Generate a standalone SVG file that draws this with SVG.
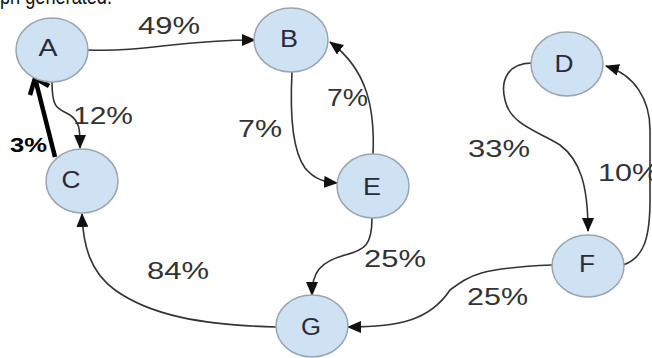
<svg xmlns="http://www.w3.org/2000/svg" width="652" height="358" viewBox="0 0 652 358">
<defs>
<marker id="arr" markerUnits="userSpaceOnUse" markerWidth="14" markerHeight="12" refX="13" refY="6" orient="auto">
<path d="M0,0 L14,6 L0,12 z" fill="#111"/>
</marker>
<style>
.n ellipse{fill:#cfe2f3;stroke:#9aa5ad;stroke-width:1.5}
.n text{font-family:"Liberation Sans",Arial,sans-serif;font-size:23px;fill:#2a2a3a;text-anchor:middle}
.e path{fill:none;stroke:#333;stroke-width:1.6;marker-end:url(#arr)}
.l{font-family:"Liberation Sans",Arial,sans-serif;font-size:23px;fill:#333}
</style>
</defs>
<rect width="652" height="358" fill="#fff"/>
<text x="0" y="4" font-family="Liberation Sans, Arial, sans-serif" font-size="22" fill="#111" textLength="112" lengthAdjust="spacingAndGlyphs">ph generated.</text>
<g id="edges" class="e">
<path d="M88,50 C150,52 175,40 255,40"/>
<path d="M52,82 C52,110 58,108 70,115 C80,122 80,130 80,148"/>
<path d="M292,72 C290,110 292,150 305,168 C315,180 325,182 337,183"/>
<path d="M373,155 C375,110 368,70 330,42"/>
<path d="M372,218 C372,245 365,250 345,255 C320,262 312,272 312,295"/>
<path d="M277,327 C200,325 150,315 115,290 C90,272 83,245 82,214"/>
<path d="M552,265 C480,268 470,275 450,290 C430,320 400,327 348,327"/>
<path d="M532,63 C508,63 500,80 505,100 C510,125 540,132 560,145 C580,160 588,185 588,231"/>
<path d="M623,265 C645,258 650,235 650,200 L650,130 C650,100 635,75 606,66"/>
</g>
<g id="thick">
<path d="M55,157 L36,82" fill="none" stroke="#000" stroke-width="4.5"/>
<polyline points="30,95 35,78 49,86" fill="none" stroke="#000" stroke-width="4.5" stroke-linejoin="miter"/>
</g>
<g id="labels">
<text class="l" x="138" y="34" textLength="62" lengthAdjust="spacingAndGlyphs">49%</text>
<text class="l" x="73" y="124" textLength="60" lengthAdjust="spacingAndGlyphs">12%</text>
<text class="l" x="10" y="152" textLength="37" lengthAdjust="spacingAndGlyphs" font-weight="bold" style="fill:#000;font-size:20px">3%</text>
<text class="l" x="238" y="137" textLength="44" lengthAdjust="spacingAndGlyphs">7%</text>
<text class="l" x="327" y="106" textLength="41" lengthAdjust="spacingAndGlyphs">7%</text>
<text class="l" x="364" y="267" textLength="62" lengthAdjust="spacingAndGlyphs">25%</text>
<text class="l" x="147" y="279" textLength="62" lengthAdjust="spacingAndGlyphs">84%</text>
<text class="l" x="467" y="305" textLength="61" lengthAdjust="spacingAndGlyphs">25%</text>
<text class="l" x="468" y="157" textLength="62" lengthAdjust="spacingAndGlyphs">33%</text>
<text class="l" x="598" y="181" textLength="61" lengthAdjust="spacingAndGlyphs">10%</text>
</g>
<g id="A" class="n"><ellipse cx="52" cy="50" rx="36" ry="32"/><text x="48" y="56" textLength="19" lengthAdjust="spacingAndGlyphs">A</text></g>
<g id="B" class="n"><ellipse cx="291" cy="40" rx="37" ry="32"/><text x="289" y="47" textLength="18" lengthAdjust="spacingAndGlyphs">B</text></g>
<g id="C" class="n"><ellipse cx="82" cy="181" rx="36" ry="32"/><text x="71" y="188" textLength="19" lengthAdjust="spacingAndGlyphs">C</text></g>
<g id="D" class="n"><ellipse cx="567" cy="64" rx="36" ry="32"/><text x="564" y="72" textLength="19" lengthAdjust="spacingAndGlyphs">D</text></g>
<g id="E" class="n"><ellipse cx="373" cy="186" rx="36" ry="32"/><text x="372" y="195" textLength="18" lengthAdjust="spacingAndGlyphs">E</text></g>
<g id="F" class="n"><ellipse cx="588" cy="266" rx="36" ry="31"/><text x="587" y="272" textLength="16" lengthAdjust="spacingAndGlyphs">F</text></g>
<g id="G" class="n"><ellipse cx="312" cy="326" rx="36" ry="31"/><text x="311" y="335" textLength="20" lengthAdjust="spacingAndGlyphs">G</text></g>
</svg>
